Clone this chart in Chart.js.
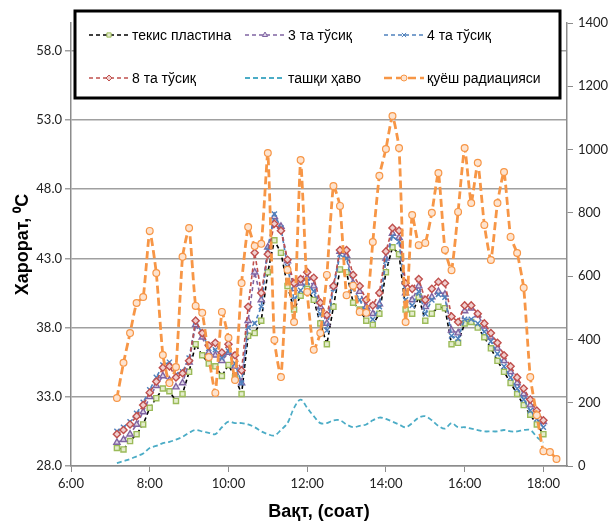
<!DOCTYPE html>
<html lang="uz">
  <head>
    <meta charset="UTF-8" />
    <script src="https://cdn.jsdelivr.net/npm/chart.js@4.4.1/dist/chart.umd.min.js"></script>
    <style>
      html, body { margin: 0; padding: 0; background: #fff; }
      #wrap { width: 610px; height: 524px; position: relative; }
    </style>
  </head>
  <body>
    <div id="wrap"><canvas id="myChart"></canvas></div>
    <script>
      // measurement times (every 10 min)
      const times = [
        "7:10", "7:20", "7:30", "7:40", "7:50",
        "8:00", "8:10", "8:20", "8:30", "8:40", "8:50",
        "9:00", "9:10", "9:20", "9:30", "9:40", "9:50",
        "10:00", "10:10", "10:20", "10:30", "10:40", "10:50",
        "11:00", "11:10", "11:20", "11:30", "11:40", "11:50",
        "12:00", "12:10", "12:20", "12:30", "12:40", "12:50",
        "13:00", "13:10", "13:20", "13:30", "13:40", "13:50",
        "14:00", "14:10", "14:20", "14:30", "14:40", "14:50",
        "15:00", "15:10", "15:20", "15:30", "15:40", "15:50",
        "16:00", "16:10", "16:20", "16:30", "16:40", "16:50",
        "17:00", "17:10", "17:20", "17:30", "17:40", "17:50",
        "18:00", "18:10", "18:20",
      ];

      // temperatures, °C
      const flatPlate = [
        29.3, 29.2, 29.8, 30.3, 31.0,
        32.2, 32.9, 33.6, 33.4, 32.7, 33.2,
        34.8, 36.8, 36.0, 35.4, 35.2, 34.5,
        35.3, 34.4, 33.2, 37.4, 37.6, 38.5,
        42.0, 44.3, 43.4, 41.0, 39.3, 40.3,
        40.8, 40.0, 38.3, 36.8, 39.5, 42.2,
        42.0, 39.8, 39.3, 38.5, 38.2, 39.0,
        42.0, 43.8, 43.3, 39.3, 39.0, 40.2,
        38.5, 39.0, 39.5, 39.4, 36.8, 36.9,
        38.3, 38.4, 38.0, 37.3, 36.5, 35.6,
        34.8, 34.0, 33.2, 32.4, 31.7, 31.0,
        30.3,
      ];
      const baffles3 = [
        29.7, 29.9, 30.3, 31.0, 31.9,
        33.0, 33.8, 34.5, 34.2, 33.7, 34.0,
        35.5, 38.2, 37.3, 36.2, 36.0, 35.6,
        36.2, 35.2, 34.0, 38.5, 42.0, 40.0,
        43.8, 46.0, 45.3, 42.8, 40.8, 41.2,
        41.6, 41.0, 39.5, 38.3, 41.0, 43.5,
        43.2, 41.2, 40.6, 39.5, 39.0, 39.7,
        43.0, 44.8, 44.5, 40.5, 40.0, 41.0,
        39.5, 40.2, 40.6, 40.4, 37.8, 37.6,
        39.2, 39.4, 38.9, 38.1, 37.3, 36.5,
        35.6, 34.8, 34.0, 33.2, 32.4, 31.8,
        31.2,
      ];
      const baffles4 = [
        30.5, 30.8, 31.2, 31.8, 32.6,
        33.5, 34.4, 35.3, 35.5, 34.6, 34.8,
        35.8, 38.4, 37.6, 36.5, 36.4, 35.8,
        36.3, 35.4, 34.0, 38.0, 38.3, 39.5,
        43.6, 46.2, 45.2, 42.4, 40.0, 40.7,
        41.3, 40.6, 39.0, 37.8, 40.8, 43.3,
        43.0, 40.8, 40.0, 39.0, 38.6, 39.5,
        42.8, 44.6, 44.2, 40.0, 39.6, 40.6,
        39.0, 40.0, 40.4, 40.2, 37.4, 37.2,
        38.6, 38.6, 38.3, 37.7, 37.0, 36.1,
        35.2, 34.4, 33.6, 32.8, 32.0, 31.4,
        30.8,
      ];
      const baffles8 = [
        30.3, 30.6, 31.0, 31.6, 32.4,
        33.3, 34.1, 35.1, 35.2, 34.4, 34.7,
        35.6, 38.5, 37.6, 36.7, 36.9, 36.2,
        36.8, 36.0, 34.9, 39.5, 43.4, 40.5,
        43.3, 45.5, 45.0, 42.9, 41.2, 41.5,
        42.0, 41.6, 39.8, 38.9, 41.0, 43.6,
        43.6, 41.8, 41.0, 40.0, 39.6, 40.5,
        43.5, 45.2, 45.0, 41.2, 40.8, 41.5,
        40.0, 40.8, 41.3, 41.2, 38.8, 38.4,
        39.6, 39.6, 39.0, 38.3, 37.6, 36.9,
        36.0, 35.2, 34.4, 33.6, 32.8, 32.0,
        31.3,
      ];
      const outdoorAir = [
        28.2, 28.35, 28.5, 28.7, 28.9,
        29.3, 29.45, 29.65, 29.75, 29.9, 30.1,
        30.4, 30.6, 30.5, 30.4, 30.3, 30.8,
        31.2, 31.1, 31.1, 31.0, 30.8, 30.5,
        30.3, 30.2, 30.6, 31.1, 32.2, 32.8,
        32.2, 31.6, 31.1, 31.1, 31.3, 31.3,
        31.0, 30.8, 30.9, 31.0, 31.3, 31.5,
        31.4, 31.2, 31.0, 30.8, 31.1, 31.5,
        31.6, 31.3, 30.9, 30.7, 31.1, 30.8,
        30.8, 30.7, 30.6, 30.5, 30.5, 30.5,
        30.6, 30.5, 30.5, 30.6, 30.6, 30.1,
        29.7,
      ];
      // solar radiation, W/m2 (right axis)
      const solarRadiation = [
        215, 326, 420, 515, 534,
        743, 610, 351, 262, 313, 661,
        752, 506, 484, 344, 231, 487,
        405, 272, 578, 755, 695, 702,
        989, 398, 281, 620, 455, 967,
        550, 367, 420, 604, 885, 822,
        540, 570, 487, 484, 708, 917,
        1002, 1106, 1005, 455, 793, 698,
        705, 800, 926, 683, 619, 803,
        1005, 831, 958, 762, 651, 831,
        929, 724, 673, 563, 281, 160,
        47, 44, 22,
      ];

      const timeTicks = ["6:00", "8:00", "10:00", "12:00", "14:00", "16:00", "18:00"];
      const tempTicks = [28, 33, 38, 43, 48, 53, 58];
      const radTicks = [0, 200, 400, 600, 800, 1000, 1200, 1400];

      function toHours(s) {
        const [h, m] = s.split(":").map(Number);
        return h + m / 60;
      }
      function points(values) {
        return values.map((v, i) => ({ x: toHours(times[i]), y: v }));
      }

      const tickFont = { family: "Lato", size: 13 };
      const tickColor = "#222";
      const axisColor = "#8c8c8c";

      // legend drawn as a framed box with two rows of three items
      const boxLegend = {
        id: "boxLegend",
        afterDraw(chart) {
          const ctx = chart.ctx;
          ctx.save();
          ctx.fillStyle = "#fff";
          ctx.fillRect(75, 11, 485, 87);
          ctx.lineWidth = 3;
          ctx.strokeStyle = "#000";
          ctx.strokeRect(75, 11, 485, 87);
          const cols = [89, 245, 384];
          const rows = [35, 78];
          ctx.font = "14px 'Liberation Sans', Arial, sans-serif";
          ctx.textBaseline = "middle";
          chart.data.datasets.forEach((ds, i) => {
            const x = cols[i % 3];
            const y = rows[Math.floor(i / 3)];
            ctx.beginPath();
            ctx.setLineDash(ds.borderDash || []);
            ctx.lineWidth = Math.min(ds.borderWidth, 2.5);
            ctx.strokeStyle = ds.borderColor;
            ctx.moveTo(x, y);
            ctx.lineTo(x + 40, y);
            ctx.stroke();
            ctx.setLineDash([]);
            if (ds.pointRadius > 0) {
              ctx.fillStyle = ds.pointBackgroundColor;
              ctx.strokeStyle = ds.pointBorderColor;
              ctx.lineWidth = 1;
              Chart.helpers.drawPoint(ctx, {
                pointStyle: ds.pointStyle,
                radius: 3,
                borderWidth: 1,
                rotation: 0,
              }, x + 20, y);
            }
            ctx.fillStyle = "#000";
            ctx.fillText(ds.label, x + 43, y + 1);
          });
          ctx.restore();
        },
      };

      function tempSeries(label, values, line, marker, fill, style, order) {
        return {
          label: label,
          data: points(values),
          yAxisID: "y",
          borderColor: line,
          borderWidth: 1.6,
          borderDash: [4, 3],
          pointStyle: style,
          pointRadius: 3.6,
          pointBorderWidth: 1.4,
          pointBorderColor: marker,
          pointBackgroundColor: fill,
          tension: 0,
          order: order,
        };
      }

      const ctx = document.getElementById("myChart").getContext("2d");
      const myChart = new Chart(ctx, {
        type: "line",
        data: {
          datasets: [
            tempSeries("текис пластина", flatPlate, "#000000", "#9bbb59", "#e4eccd", "rect", 5),
            tempSeries("3 та тўсиқ", baffles3, "#8064a2", "#8064a2", "#ddd5e8", "triangle", 4),
            tempSeries("4 та тўсиқ", baffles4, "#4f81bd", "#4f81bd", "#4f81bd", "crossRot", 3),
            tempSeries("8 та тўсиқ", baffles8, "#c0504d", "#c0504d", "#f0d0cf", "rectRot", 2),
            {
              label: "ташқи ҳаво",
              data: points(outdoorAir),
              yAxisID: "y",
              borderColor: "#4bacc6",
              borderWidth: 1.8,
              borderDash: [5, 3],
              pointRadius: 0,
              tension: 0.35,
              order: 1,
            },
            {
              label: "қуёш радиацияси",
              data: points(solarRadiation),
              yAxisID: "y1",
              borderColor: "#f79646",
              borderWidth: 2.8,
              borderDash: [8, 4],
              pointStyle: "circle",
              pointRadius: 3.4,
              pointBorderWidth: 1.2,
              pointBorderColor: "#f79646",
              pointBackgroundColor: "#fde3cf",
              tension: 0.15,
              order: 0,
            },
          ],
        },
        options: {
          responsive: true,
          maintainAspectRatio: false,
          animation: false,
          layout: { padding: { top: 23, left: 0, right: 0, bottom: 0 } },
          plugins: {
            legend: { display: false },
            tooltip: { enabled: false },
          },
          scales: {
            x: {
              type: "linear",
              min: 6,
              max: 18.6,
              afterBuildTicks: (scale) => {
                scale.ticks = timeTicks.map((t) => ({ value: toHours(t) }));
              },
              afterFit: (scale) => { scale.height = 58; },
              ticks: {
                callback: (v) => timeTicks.find((t) => toHours(t) === v),
                font: tickFont,
                color: tickColor,
                padding: 4,
                maxRotation: 0,
              },
              grid: { drawOnChartArea: false, tickLength: 6, color: axisColor, lineWidth: 1 },
              border: { color: axisColor, width: 1.5 },
              title: {
                display: true,
                text: "Вақт, (соат)",
                font: { family: "'Liberation Sans', Arial", size: 18, weight: "bold" },
                color: "#000",
                padding: { top: 0, bottom: 1 },
              },
            },
            y: {
              position: "left",
              min: 28,
              max: 60,
              afterBuildTicks: (scale) => {
                scale.ticks = tempTicks.map((v) => ({ value: v }));
              },
              afterFit: (scale) => { scale.width = 71; },
              ticks: {
                callback: (v) => v.toFixed(1),
                font: tickFont,
                color: tickColor,
                padding: 3,
              },
              grid: { color: "#a0a0a0", lineWidth: 1.5, tickLength: 6 },
              border: { color: axisColor, width: 1.5 },
              title: {
                display: true,
                text: "Харорат, ⁰C",
                font: { family: "'Liberation Sans', Arial", size: 18, weight: "bold" },
                color: "#000",
                padding: { top: 12, bottom: 0 },
              },
            },
            y1: {
              position: "right",
              min: 0,
              max: 1400,
              afterBuildTicks: (scale) => {
                scale.ticks = radTicks.map((v) => ({ value: v }));
              },
              afterFit: (scale) => { scale.width = 43; },
              ticks: {
                callback: (v) => String(v),
                font: tickFont,
                color: tickColor,
                padding: 5,
              },
              grid: { drawOnChartArea: false, tickLength: 6, color: axisColor },
              border: { color: axisColor, width: 1.5 },
            },
          },
        },
        plugins: [boxLegend],
      });
    </script>
  </body>
</html>
